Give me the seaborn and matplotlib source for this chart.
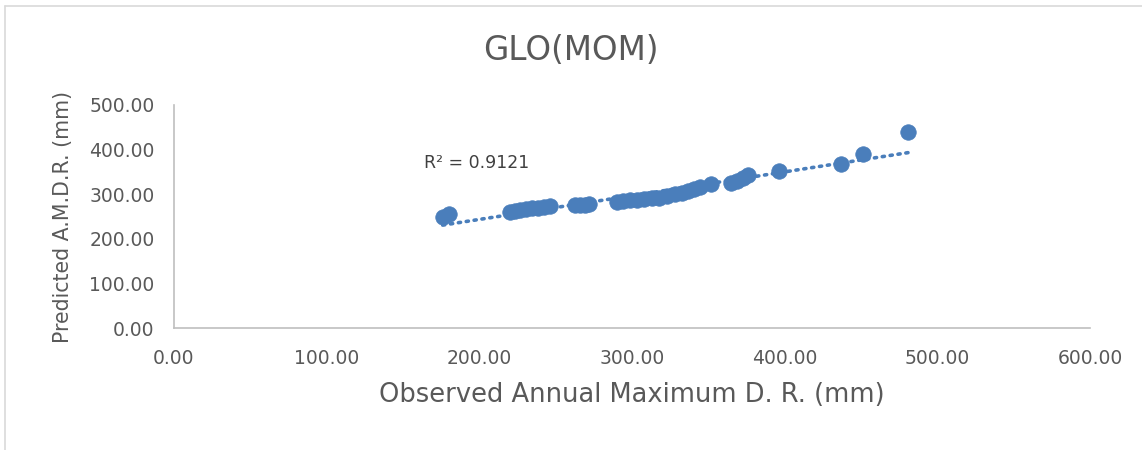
import matplotlib
matplotlib.use("Agg")
import matplotlib.pyplot as plt
import seaborn as sns
import numpy as np
import pandas as pd
from matplotlib.lines import Line2D

# Data
observed = [176, 180, 220, 223.5, 226.6, 230.5, 234.4, 238.3, 242.3, 246.2,
            262.6, 265.9, 269.2, 271.8,
            290, 294, 298.5, 303, 308, 313, 318, 323, 328, 332.7, 336.6, 340.5, 344.5, 352,
            364.8, 368.7, 372.6, 376, 396, 436.8, 451, 481]
predicted = [249, 256, 260, 262, 264.6, 265.7, 268, 269, 271, 273.5,
             275.8, 276, 276.5, 277,
             282.5, 285, 287, 288, 289, 291.5, 292.6, 296, 300, 302.7, 307, 311.7, 316, 323,
             325, 329.6, 336, 343, 352, 367.7, 390, 439]
x_ticks = [0, 100, 200, 300, 400, 500, 600]
y_ticks = [0, 100, 200, 300, 400, 500]
title = "GLO(MOM)"
x_label = "Observed Annual Maximum D. R. (mm)"
y_label = "Predicted A.M.D.R. (mm)"
r2_text = "R² = 0.9121"
r2_pos = (164, 370)

df = pd.DataFrame({"obs": observed, "pred": predicted})

sns.set_theme(style="white")
plt.rcParams['font.family'] = ['DejaVu Sans']

W, H = 1142, 450
fig = plt.figure(figsize=(W / 100, H / 100), dpi=100)
ax = fig.add_axes([174 / W, 1 - 328 / H, (1090 - 174) / W, (328 - 105) / H])

color = "#4a7ebb"
sns.regplot(data=df, x="obs", y="pred", ax=ax, scatter=False, ci=None,
            color=color, line_kws={"linestyle": (0, (0.6, 1.6)), "linewidth": 2.6,
                                   "dash_capstyle": "round"})
sns.scatterplot(data=df, x="obs", y="pred", ax=ax, color=color, s=125,
                edgecolor=color, linewidth=0.5, zorder=3)

ax.set_xlim(0, 600)
ax.set_ylim(0, 500)
ax.set_xticks(x_ticks)
ax.set_yticks(y_ticks)
ax.set_xticklabels([f"{v:.2f}" for v in x_ticks])
ax.set_yticklabels([f"{v:.2f}" for v in y_ticks])
ax.tick_params(axis="both", length=0, labelsize=13.5, labelcolor="#595959")
ax.tick_params(axis="x", pad=15)
ax.tick_params(axis="y", pad=14)
for s in ["top", "right"]:
    ax.spines[s].set_visible(False)
for s in ["left", "bottom"]:
    ax.spines[s].set_color("#bfbfbf")
    ax.spines[s].set_linewidth(1.2)
ax.grid(False)

ax.set_xlabel(x_label, fontsize=18.5, color="#595959", labelpad=10)
ax.set_ylabel(y_label, fontsize=14.8, color="#595959", labelpad=12)
fig.text(0.5, 1 - 51 / H, title, ha="center", va="center", fontsize=23.5, color="#595959")

ax.text(r2_pos[0], r2_pos[1], r2_text, fontsize=12.5,
        color="#404040", ha="left", va="center")

# Chart-area border (light gray)
fig.add_artist(Line2D([5 / W, 5 / W], [0, 1 - 6 / H], transform=fig.transFigure,
                      color="#d9d9d9", linewidth=1.2))
fig.add_artist(Line2D([5 / W, 1], [1 - 6 / H, 1 - 6 / H], transform=fig.transFigure,
                      color="#d9d9d9", linewidth=1.2))

fig.savefig("out.png", dpi=100)
